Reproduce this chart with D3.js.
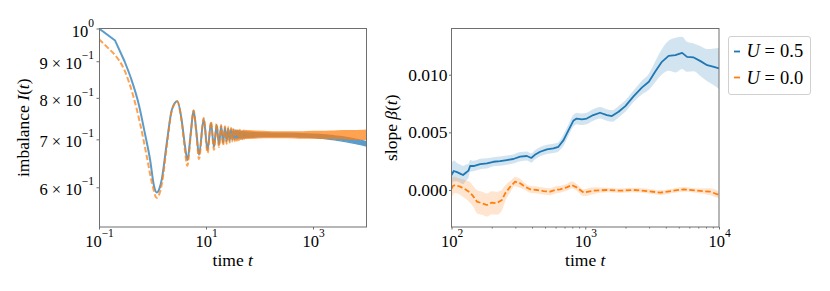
<!DOCTYPE html>
<html><head><meta charset="utf-8">
<script src="https://cdn.jsdelivr.net/npm/d3@7"></script>
<style>
body{margin:0;background:#fff}
svg text{font-family:"Liberation Serif","DejaVu Serif",serif !important;fill:#000}
</style></head>
<body><svg id="c" width="830" height="291"></svg>
<script>
// ---------- LEFT PANEL DATA: imbalance I(t) ----------
const imbTimeU05 = [0.1,0.2,0.3,0.4,0.55,0.72,0.9,1.07,1.2,1.35,1.5,1.85,2.3,2.9,3.5,4.0,4.5,5.2,5.85,6.6,7.4,
  9.06,10.7,12.4,14.1,15.8,17.5,19.2,20.9,22.6,24.3,26.0,27.7,29.4,31.1,32.8,34.5,36.2,37.9,39.6,41.3,43.0,44.7,46.4,48.1,49.8,51.5,53.2,55.0];
const imbValU05 = [1.0,0.962,0.90,0.85,0.785,0.714,0.656,0.602,0.590,0.598,0.617,0.692,0.770,0.791,0.746,0.69,0.655,0.715,0.768,0.718,0.666,
  0.747,0.677,0.738,0.683,0.733,0.688,0.730,0.692,0.727,0.695,0.725,0.697,0.723,0.699,0.722,0.700,0.721,0.701,0.720,0.702,0.719,0.702,0.718,0.703,0.718,0.703,0.717,0.704];
const imbTimeU00 = [0.1,0.185,0.306,0.438,0.583,0.78,0.966,1.2,1.35,1.5,1.85,2.3,2.9,3.5,4.0,4.47,5.2,5.85,6.6,7.4,
  9.06,10.7,12.4,14.1,15.8,17.5,19.2,20.9,22.6,24.3,26.0,27.7,29.4,31.1,32.8,34.5,36.2,37.9,39.6,41.3,43.0,44.7,46.4,48.1,49.8,51.5,53.2,55.0];
const imbValU00 = [0.966,0.924,0.871,0.804,0.738,0.663,0.611,0.580,0.588,0.607,0.685,0.768,0.791,0.742,0.68,0.643,0.712,0.768,0.714,0.657,
  0.750,0.670,0.741,0.677,0.736,0.683,0.733,0.687,0.730,0.690,0.728,0.693,0.726,0.695,0.725,0.696,0.724,0.697,0.723,0.698,0.722,0.699,0.721,0.700,0.720,0.701,0.720,0.702];
// late-time fluctuation band (lower / upper envelope)
const bandTime  = [55,80,120,200,350,600,1000,1500,2500,4000,6000,10000];
const bandLoU05 = [0.704,0.705,0.706,0.706,0.706,0.705,0.704,0.702,0.699,0.695,0.691,0.685];
const bandHiU05 = [0.717,0.716,0.715,0.714,0.714,0.713,0.712,0.711,0.708,0.705,0.701,0.695];
const bandLoU00 = [0.702,0.703,0.704,0.704,0.704,0.703,0.703,0.702,0.702,0.701,0.700,0.700];
const bandHiU00 = [0.720,0.719,0.718,0.717,0.717,0.717,0.718,0.718,0.719,0.720,0.720,0.721];

// ---------- RIGHT PANEL DATA: slope beta(t) ----------
const slopeTimeU05 = [100,104,110,117,122,128,134,138,146,164,184,206,231,259,290,326,366,395,420,460,517,578,630,688,750,814,862,945,1026,1148,1291,1452,1582,1775,1994,2304,2660,2990,3330,3740,4200,4720,5300,5770,6470,7270,8160,9160,10000];
const slopeValU05 = [0.0013,0.00165,0.00155,0.0014,0.0013,0.0015,0.00168,0.0021,0.00208,0.00225,0.00231,0.00245,0.00251,0.0026,0.00269,0.00289,0.00295,0.00278,0.00305,0.00332,0.00353,0.00361,0.00375,0.00433,0.0052,0.006,0.0062,0.00613,0.0062,0.0065,0.0067,0.0065,0.00641,0.00679,0.00728,0.00815,0.0089,0.00939,0.01025,0.01112,0.01164,0.0117,0.0119,0.01155,0.0115,0.01118,0.01083,0.01068,0.01055];
const slopeErrU05 = [0.001,0.0009,0.0008,0.0008,0.0008,0.0007,0.0006,0.0005,0.00045,0.00045,0.00045,0.0004,0.0004,0.0004,0.0004,0.0004,0.0004,0.0004,0.0004,0.0004,0.0004,0.0004,0.0004,0.0005,0.0005,0.0005,0.0005,0.0005,0.0005,0.0005,0.0005,0.0005,0.0005,0.0005,0.0005,0.0005,0.0006,0.0007,0.0009,0.0011,0.0013,0.0015,0.0014,0.0013,0.0012,0.0013,0.0014,0.0016,0.0018];
const slopeTimeU00 = [100,102.4,106.6,116,126.6,138,146,155,169,184,200,218,238,252,275,299,326,355,387,434,487,546,596,650,727,794,862,972,1148,1452,1820,2304,2900,3650,4590,5450,6850,8600,10000];
const slopeValU00 = [0.0001,0.00035,0.00043,0.00029,0.00006,-0.00023,-0.00058,-0.00101,-0.00115,-0.0013,-0.0011,-0.00115,-0.00087,-0.00029,0.00029,0.00072,0.00058,0.00029,0.00006,0,-0.00009,-0.00015,0,0.00006,0.00023,0.00043,0.00023,-0.00023,-0.00006,0,-0.00006,0,-0.00009,-0.00023,-0.00006,0.00006,-0.00006,-0.00015,-0.00043];
const slopeErrU00 = [0.0008,0.0008,0.0007,0.0007,0.0008,0.0009,0.0009,0.001,0.001,0.001,0.001,0.001,0.0009,0.0007,0.0005,0.0004,0.0004,0.0003,0.0003,0.0003,0.0003,0.0003,0.0003,0.0003,0.0003,0.0003,0.0003,0.0003,0.0003,0.0002,0.0002,0.0002,0.0002,0.0002,0.0002,0.0002,0.0002,0.0003,0.0003];

// ---------- TICKS / LABELS ----------
const leftXTicks = [0.1, 10, 1000];
const leftXExp = ["\u22121", "1", "3"];
const leftYTicks = [1.0, 0.9, 0.8, 0.7, 0.6];
const leftYMant = ["", "9", "8", "7", "6"];
const leftYExp = ["0", "\u22121", "\u22121", "\u22121", "\u22121"];
const rightXTicks = [100, 1000, 10000];
const rightXExp = ["2", "3", "4"];
const rightXMinor = [200,300,400,500,600,700,800,900,2000,3000,4000,5000,6000,7000,8000,9000];
const rightYTicks = [0, 0.005, 0.010];
const legendLabels = ["0.5", "0.0"];

const FONT = '"Liberation Serif","DejaVu Serif",serif';
const blue = "#1f77b4", orange = "#ff7f0e", spine = "#6f6f6f";
const svg = d3.select("#c").attr("font-family", FONT);

const L = {x0: 99, x1: 366.5, y0: 28.5, y1: 227};
const R = {x0: 451.5, x1: 719, y0: 28.5, y1: 227};

const xL = d3.scaleLog().domain([0.1, 1e4]).range([L.x0, L.x1]);
const yL = d3.scaleLog().domain([0.528, 1.0]).range([L.y1, L.y0]);
const xR = d3.scaleLog().domain([100, 1e4]).range([R.x0, R.x1]);
const yR = d3.scaleLinear().domain([-0.00321, 0.01401]).range([R.y1, R.y0]);

const defs = svg.append("defs");
defs.append("clipPath").attr("id","clipL").append("rect").attr("x",L.x0).attr("y",L.y0).attr("width",L.x1-L.x0).attr("height",L.y1-L.y0);
defs.append("clipPath").attr("id","clipR").append("rect").attr("x",R.x0).attr("y",R.y0).attr("width",R.x1-R.x0).attr("height",R.y1-R.y0);

function sup(sel, base, exp) {
  sel.text(null).attr("font-family", FONT);
  sel.append("tspan").text(base);
  sel.append("tspan").attr("dy", -10).attr("font-size", 11.5).text(exp);
}

// ---------- LEFT PANEL ----------
const gL = svg.append("g").attr("clip-path","url(#clipL)");
function leftSeries(times, vals, lo, hi, color, dashed, nLinear) {
  const g = gL.append("g").attr("opacity", 0.72);
  const pts = times.map((t,i)=>[t, vals[i]]);
  const lineLin = d3.line().x(d=>xL(d[0])).y(d=>yL(d[1]));
  const lineSm = d3.line().x(d=>xL(d[0])).y(d=>yL(d[1])).curve(d3.curveMonotoneX);
  const dStr = lineLin(pts.slice(0, nLinear)) + lineSm(pts.slice(nLinear-1)).replace(/^M[^LC]*/, "");
  const path = g.append("path").attr("d", dStr).attr("fill","none").attr("stroke",color).attr("stroke-width",2).attr("stroke-linejoin","round");
  if (dashed) path.attr("stroke-dasharray","5.5,2.5");
  const bpts = bandTime.map((t,i)=>[t, lo[i], hi[i]]);
  const area = d3.area().x(d=>xL(d[0])).y0(d=>yL(d[1])).y1(d=>yL(d[2])).curve(d3.curveMonotoneX);
  g.append("path").attr("d", area(bpts)).attr("fill",color).attr("stroke",color).attr("stroke-width",1.2);
}
leftSeries(imbTimeU05, imbValU05, bandLoU05, bandHiU05, blue, false, 3);
leftSeries(imbTimeU00, imbValU00, bandLoU00, bandHiU00, orange, true, 2);

// left axes
const axLX = svg.append("g").attr("transform",`translate(0,${L.y1})`)
  .call(d3.axisBottom(xL).tickValues(leftXTicks).tickSize(2.5).tickSizeOuter(0));
axLX.attr("font-family", FONT);
axLX.select(".domain").remove();
axLX.selectAll(".tick line").attr("stroke", spine);
axLX.selectAll(".tick text").attr("font-size",16.5).attr("y",19.5).attr("dy",null)
  .each(function(d,i){ sup(d3.select(this), "10", leftXExp[i]); });

const axLY = svg.append("g").attr("transform",`translate(${L.x0},0)`)
  .call(d3.axisLeft(yL).tickValues(leftYTicks).tickSize(2.5).tickSizeOuter(0));
axLY.attr("font-family", FONT);
axLY.select(".domain").remove();
axLY.selectAll(".tick line").attr("stroke", spine);
axLY.selectAll(".tick text").attr("font-size",16.5).attr("x",-5).attr("dy",null).attr("y",7.6)
  .each(function(d,i){ sup(d3.select(this), leftYMant[i] ? leftYMant[i] + " \u00d7 10" : "10", leftYExp[i]); });

svg.append("rect").attr("x",L.x0+0.5).attr("y",L.y0).attr("width",L.x1-L.x0-0.5).attr("height",L.y1-L.y0)
  .attr("fill","none").attr("stroke",spine).attr("stroke-width",1);

const tl = svg.append("text").attr("x",(L.x0+L.x1)/2).attr("y",266).attr("text-anchor","middle").attr("font-size",17.5);
tl.append("tspan").text("time ");
tl.append("tspan").attr("font-style","italic").text("t");
const yl = svg.append("text").attr("transform",`translate(29,${(L.y0+L.y1)/2}) rotate(-90)`).attr("text-anchor","middle").attr("font-size",17.5);
yl.append("tspan").text("imbalance ");
yl.append("tspan").attr("font-style","italic").text("I");
yl.append("tspan").text("(");
yl.append("tspan").attr("font-style","italic").text("t");
yl.append("tspan").text(")");

// ---------- RIGHT PANEL ----------
const gR = svg.append("g").attr("clip-path","url(#clipR)");
function rightBand(times, vals, errs, color) {
  const pts = times.map((t,i)=>[t, vals[i], errs[i]]);
  const area = d3.area().x(d=>xR(d[0])).y0(d=>yR(d[1]-d[2])).y1(d=>yR(d[1]+d[2])).curve(d3.curveMonotoneX);
  gR.append("path").attr("d", area(pts)).attr("fill", color).attr("opacity", 0.2);
}
function rightLine(times, vals, color, dashed) {
  const pts = times.map((t,i)=>[t, vals[i]]);
  const line = d3.line().x(d=>xR(d[0])).y(d=>yR(d[1]));
  const p = gR.append("path").attr("d", line(pts)).attr("fill","none").attr("stroke",color).attr("stroke-width",1.8).attr("stroke-linejoin","round");
  if (dashed) p.attr("stroke-dasharray","5.5,2.5");
}
rightBand(slopeTimeU05, slopeValU05, slopeErrU05, blue);
rightBand(slopeTimeU00, slopeValU00, slopeErrU00, orange);
rightLine(slopeTimeU05, slopeValU05, blue, false);
rightLine(slopeTimeU00, slopeValU00, orange, true);

const axRXm = svg.append("g").attr("transform",`translate(0,${R.y1})`)
  .call(d3.axisBottom(xR).tickValues(rightXMinor).tickSize(1.5).tickSizeOuter(0).tickFormat(""));
axRXm.select(".domain").remove();
axRXm.selectAll(".tick line").attr("stroke", spine);
const axRX = svg.append("g").attr("transform",`translate(0,${R.y1})`)
  .call(d3.axisBottom(xR).tickValues(rightXTicks).tickSize(2.5).tickSizeOuter(0));
axRX.attr("font-family", FONT);
axRX.select(".domain").remove();
axRX.selectAll(".tick line").attr("stroke", spine);
axRX.selectAll(".tick text").attr("font-size",16.5).attr("y",19.5).attr("dy",null)
  .each(function(d,i){ sup(d3.select(this), "10", rightXExp[i]); });

const axRY = svg.append("g").attr("transform",`translate(${R.x0},0)`)
  .call(d3.axisLeft(yR).tickValues(rightYTicks).tickSize(2.5).tickSizeOuter(0).tickFormat(d3.format(".3f")));
axRY.attr("font-family", FONT);
axRY.select(".domain").remove();
axRY.selectAll(".tick line").attr("stroke", spine);
axRY.selectAll(".tick text").attr("font-size",17.5).attr("x",-4).attr("dy",null).attr("y",5.6);

svg.append("rect").attr("x",R.x0).attr("y",R.y0).attr("width",R.x1-R.x0).attr("height",R.y1-R.y0)
  .attr("fill","none").attr("stroke",spine).attr("stroke-width",1);

const tr = svg.append("text").attr("x",(R.x0+R.x1)/2).attr("y",266).attr("text-anchor","middle").attr("font-size",17.5);
tr.append("tspan").text("time ");
tr.append("tspan").attr("font-style","italic").text("t");
const yr = svg.append("text").attr("transform",`translate(397,${(R.y0+R.y1)/2}) rotate(-90)`).attr("text-anchor","middle").attr("font-size",17.5);
yr.append("tspan").text("slope ");
yr.append("tspan").attr("font-style","italic").text("\u03b2");
yr.append("tspan").text("(");
yr.append("tspan").attr("font-style","italic").text("t");
yr.append("tspan").text(")");

// ---------- LEGEND ----------
const lg = svg.append("g");
lg.append("rect").attr("x",728.5).attr("y",36.5).attr("width",82).attr("height",58).attr("rx",2.5)
  .attr("fill","#fff").attr("fill-opacity",0.8).attr("stroke","#d0d0d0").attr("stroke-width",1);
[blue, orange].forEach((c,i)=>{
  const yy = 51.5 + i*26;
  lg.append("line").attr("x1",734).attr("x2",740).attr("y1",yy).attr("y2",yy).attr("stroke",c).attr("stroke-width",1.8);
  const by = 57 + i*26.5;
  lg.append("text").attr("x",746.5).attr("y",by).attr("font-size",18.5).attr("font-style","italic").text("U");
  lg.append("text").attr("x",764.5).attr("y",by).attr("font-size",18.5).text("=");
  lg.append("text").attr("x",780).attr("y",by).attr("font-size",18.5).text(legendLabels[i]);
});
</script>
</body></html>
